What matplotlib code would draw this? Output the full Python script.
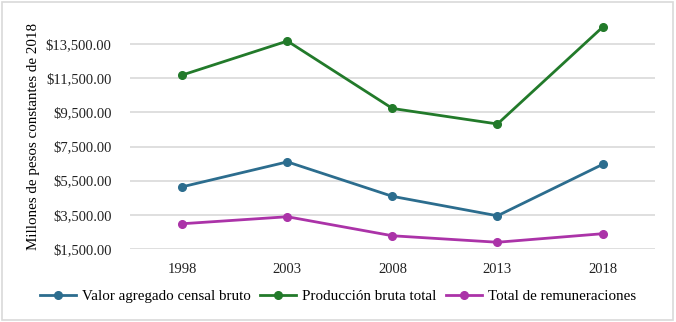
import matplotlib
matplotlib.use("Agg")
import matplotlib.pyplot as plt
from matplotlib.patches import Rectangle

years = ["1998", "2003", "2008", "2013", "2018"]
valor_agregado = [5140, 6600, 4580, 3440, 6450]
produccion_bruta = [11690, 13680, 9730, 8820, 14490]
remuneraciones = [2975, 3385, 2270, 1890, 2390]

series = [
    ("Valor agregado censal bruto", valor_agregado, "#2c6d8e"),
    ("Producción bruta total", produccion_bruta, "#227a2a"),
    ("Total de remuneraciones", remuneraciones, "#ab33a8"),
]
yticks = [1500, 3500, 5500, 7500, 9500, 11500, 13500]

plt.rcParams["font.family"] = "Liberation Serif"

fig = plt.figure(figsize=(6.76, 3.22), dpi=100)
ax = fig.add_axes([0.192, 0.227, 0.777, 0.742])

x = range(len(years))
for label, vals, col in series:
    ax.plot(x, vals, color=col, lw=2, marker="o", ms=5.5, label=label, zorder=3)

ax.set_xlim(-0.5, len(years) - 0.5)
ax.set_ylim(1500, 15500)
ax.set_xticks(list(x))
ax.set_xticklabels(years)
ax.set_yticks(yticks)
ax.set_yticklabels(["${:,.2f}".format(v) for v in yticks])
ax.tick_params(axis="both", length=0, labelsize=10.5, colors="#222222")
ax.tick_params(axis="x", pad=10)
ax.tick_params(axis="y", pad=13)
ax.grid(axis="y", color="#d9d9d9", lw=1.2)
for s in ax.spines.values():
    s.set_visible(False)
ax.set_ylabel("Millones de pesos constantes de 2018", fontsize=10.8)
ax.yaxis.set_label_coords(-0.171, 0.47)

fig.legend(loc="center", bbox_to_anchor=(0.5, 0.08), ncol=3, frameon=False,
           fontsize=10.8, handlelength=2.4, columnspacing=0.6, handletextpad=0.4)

fig.patches.append(Rectangle((0.003, 0.006), 0.992, 0.988, transform=fig.transFigure,
                             fill=False, edgecolor="#d9d9d9", lw=1.2))

fig.savefig("out.png", dpi=100)
